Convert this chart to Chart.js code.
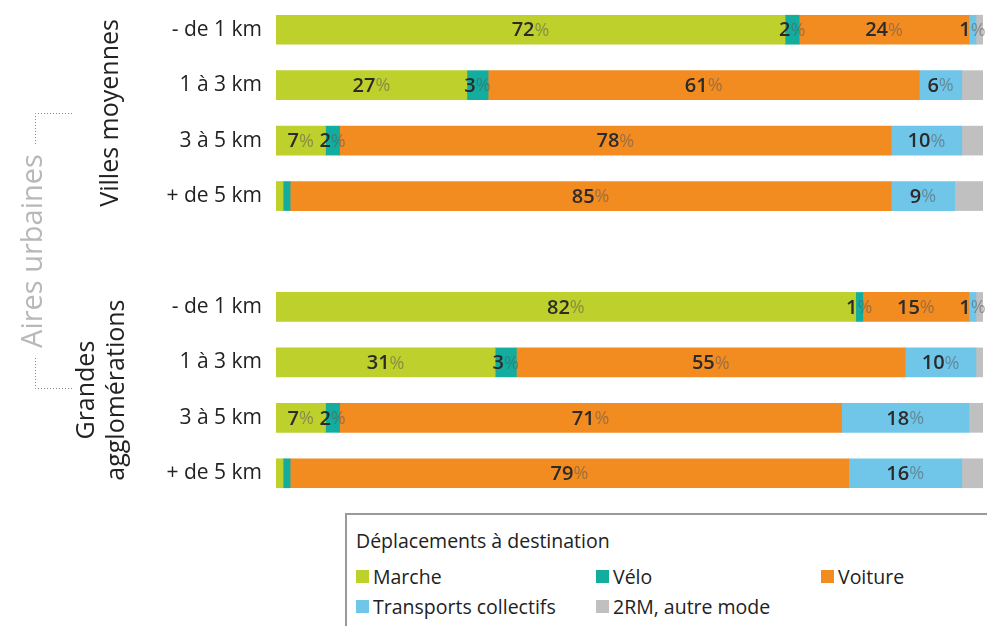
<!DOCTYPE html>
<html lang="fr">
<head>
    <meta charset="UTF-8">
    <title>Déplacements à destination</title>
    <script src="https://cdn.jsdelivr.net/npm/chart.js"></script>
    <style>
        * {
            margin: 0;
            padding: 0;
            box-sizing: border-box;
            font-family: 'Open Sans', sans-serif;
        }

        body {
            background: white;
            width: 987px;
            height: 626px;
            overflow: hidden;
            position: relative;
        }

        #chart {
            position: absolute;
            left: 0;
            top: 0;
        }

        .legend {
            position: absolute;
            left: 345px;
            top: 513px;
            width: 680px;
            height: 140px;
            border: 2px solid #9a9a9a;
            color: #222;
            font-size: 19.5px;
        }

        .legend .title {
            position: absolute;
            left: 9px;
            top: 12px;
        }

        .legend .item {
            position: absolute;
            display: flex;
            align-items: center;
            gap: 4px;
        }

        .legend .sw {
            width: 13px;
            height: 13px;
        }
    </style>
</head>
<body>
    <canvas id="chart" width="987" height="505"></canvas>
    <div class="legend" id="legend">
        <div class="title">Déplacements à destination</div>
    </div>

    <script>
        // catégories (ligne vide entre les deux groupes)
        const categories = ['- de 1 km', '1 à 3 km', '3 à 5 km', '+ de 5 km', '',
                            '- de 1 km', '1 à 3 km', '3 à 5 km', '+ de 5 km'];

        const modes = ['Marche', 'Vélo', 'Voiture', 'Transports collectifs', '2RM, autre mode'];
        const colors = ['#bdd02c', '#12ad9e', '#f28b20', '#6fc6e8', '#c0c0c0'];

        // parts en % (villes moyennes puis grandes agglomérations)
        const marche   = [72, 27, 7, 1, null, 82, 31, 7, 1];
        const velo     = [2, 3, 2, 1, null, 1, 3, 2, 1];
        const voiture  = [24, 61, 78, 85, null, 15, 55, 71, 79];
        const tc       = [1, 6, 10, 9, null, 1, 10, 18, 16];
        const autre    = [1, 3, 3, 4, null, 1, 1, 2, 3];

        // segments sans étiquette : [série, ligne]
        const noLabel = [[0, 3], [1, 3], [0, 8], [1, 8]];

        const series = [marche, velo, voiture, tc, autre];

        // étiquettes en % sur les segments
        const labelPlugin = {
            id: 'labels',
            afterDatasetsDraw(chart) {
                const ctx = chart.ctx;
                ctx.save();
                ctx.textBaseline = 'middle';
                ctx.textAlign = 'left';
                chart.data.datasets.forEach((ds, di) => {
                    if (di === 4) return;
                    chart.getDatasetMeta(di).data.forEach((bar, i) => {
                        const v = ds.data[i];
                        if (v == null) return;
                        if (noLabel.some(p => p[0] === di && p[1] === i)) return;
                        const cx = (bar.x + bar.base) / 2;
                        const num = String(v);
                        ctx.font = '600 20px "Open Sans"';
                        const w1 = ctx.measureText(num).width;
                        ctx.font = '18px "Open Sans"';
                        const w2 = ctx.measureText('%').width;
                        const x = Math.min(cx - (w1 + w2) / 2, 986 - w1 - w2);
                        ctx.font = '600 20px "Open Sans"';
                        ctx.fillStyle = '#2b2b2b';
                        ctx.fillText(num, x, bar.y + 1);
                        ctx.font = '18px "Open Sans"';
                        ctx.fillStyle = 'rgba(90,90,90,0.55)';
                        ctx.fillText('%', x + w1, bar.y + 1);
                    });
                });
                ctx.restore();
            }
        };

        // titres des groupes et accolade "Aires urbaines"
        const groupPlugin = {
            id: 'groups',
            afterDraw(chart) {
                const ctx = chart.ctx;
                const y = chart.scales.y;
                const vmMid = (y.getPixelForValue(0) + y.getPixelForValue(3)) / 2;
                const gaMid = (y.getPixelForValue(5) + y.getPixelForValue(8)) / 2;
                ctx.save();
                ctx.textAlign = 'center';
                ctx.textBaseline = 'middle';

                ctx.fillStyle = '#222';
                ctx.font = '25px "Open Sans"';
                ctx.save();
                ctx.translate(111, vmMid);
                ctx.rotate(-Math.PI / 2);
                ctx.fillText('Villes moyennes', 0, 0);
                ctx.restore();

                ctx.save();
                ctx.translate(103, gaMid);
                ctx.rotate(-Math.PI / 2);
                ctx.fillText('Grandes', 0, -16);
                ctx.fillText('agglomérations', 0, 14);
                ctx.restore();

                ctx.fillStyle = '#b8b8b8';
                ctx.font = '29px "Open Sans"';
                ctx.save();
                ctx.translate(34, 251);
                ctx.rotate(-Math.PI / 2);
                ctx.fillText('Aires urbaines', 0, 0);
                ctx.restore();

                ctx.strokeStyle = '#888';
                ctx.lineWidth = 1;
                ctx.setLineDash([1, 2]);
                ctx.beginPath();
                ctx.moveTo(72, 113.5);
                ctx.lineTo(35.5, 113.5);
                ctx.lineTo(35.5, 146);
                ctx.moveTo(35.5, 358);
                ctx.lineTo(35.5, 388.5);
                ctx.lineTo(72, 388.5);
                ctx.stroke();
                ctx.restore();
            }
        };

        new Chart(document.getElementById('chart'), {
            type: 'bar',
            data: {
                labels: categories,
                datasets: series.map((d, i) => ({
                    label: modes[i],
                    data: d,
                    backgroundColor: colors[i],
                    borderWidth: 0,
                    barThickness: 29
                }))
            },
            options: {
                indexAxis: 'y',
                responsive: false,
                animation: false,
                layout: { padding: { left: 140, right: 4, top: 2, bottom: 4 } },
                scales: {
                    x: { stacked: true, min: 0, max: 100, display: false },
                    y: {
                        stacked: true,
                        grid: { display: false, drawTicks: false },
                        border: { display: false },
                        afterFit: s => {
                            s.width = 136;
                            s.paddingTop = 0;
                            s.paddingBottom = 0;
                        },
                        ticks: {
                            padding: 14,
                            color: '#222',
                            font: { family: 'Open Sans', size: 21 }
                        }
                    }
                },
                plugins: {
                    legend: { display: false },
                    tooltip: { enabled: false }
                }
            },
            plugins: [labelPlugin, groupPlugin]
        });

        // légende HTML
        const pos = [[9, 48], [249, 48], [474, 48], [9, 78], [249, 78]];
        const legend = document.getElementById('legend');
        modes.forEach((m, i) => {
            const el = document.createElement('div');
            el.className = 'item';
            el.style.left = pos[i][0] + 'px';
            el.style.top = pos[i][1] + 'px';
            el.innerHTML = '<span class="sw" style="background:' + colors[i] + '"></span>' + m;
            legend.appendChild(el);
        });
    </script>
</body>
</html>
